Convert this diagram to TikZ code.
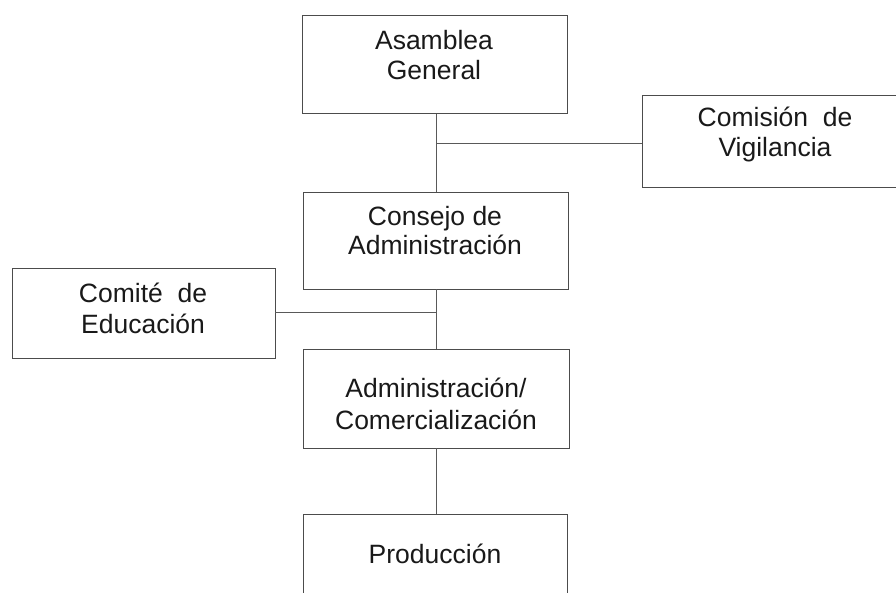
\documentclass[tikz,border=0pt]{standalone}
\usepackage{fontspec}
\setmainfont{Liberation Sans}
\begin{document}
\begin{tikzpicture}[x=1pt,y=-1pt,
  box/.style={draw=black!70,line width=0.7pt,rectangle,inner sep=0pt},
  lbl/.style={anchor=base,align=center,font=\fontsize{26.5}{#1}\selectfont,text=black!90,inner sep=0pt},
  lbl/.default=32,
  conn/.style={draw=black!65,line width=0.7pt}]
\useasboundingbox (0,0) rectangle (896,593);
\clip (0,0) rectangle (896,593);
\node[box,minimum width=265pt,minimum height=98pt] (asamblea) at (434.5,64.5) {};
\node[box,minimum width=265pt,minimum height=92pt] (comision) at (774.5,141) {};
\node[box,minimum width=265pt,minimum height=97pt] (consejo) at (435.5,240.5) {};
\node[box,minimum width=263pt,minimum height=90pt] (comite) at (143.5,313) {};
\node[box,minimum width=266pt,minimum height=99pt] (admin) at (436,398.5) {};
\node[box,minimum width=264pt,minimum height=97pt] (produccion) at (435,562.5) {};
\node[lbl=30] (tasamblea) at (434,80) {Asamblea\\General};
\node[lbl=30] (tcomision) at (775,157) {Comisión\ \ de\\Vigilancia};
\node[lbl=29.5] (tconsejo) at (435,255) {Consejo de\\Administración};
\node[lbl=30] (tcomite) at (143,333) {Comité\ \ de\\Educación};
\node[lbl=32] (tadmin) at (436,429) {Administración/\\Comercialización};
\node[lbl] (tproduccion) at (435,563) {Producción};
\coordinate (j1) at (436,143);
\coordinate (j2) at (436,312);
\draw[conn] (436,0 |- asamblea.south) -- (436,0 |- consejo.north);
\draw[conn] (j1) -- (j1 -| comision.west);
\draw[conn] (436,0 |- consejo.south) -- (436,0 |- admin.north);
\draw[conn] (j2) -- (j2 -| comite.east);
\draw[conn] (436,0 |- admin.south) -- (436,0 |- produccion.north);
\end{tikzpicture}
\end{document}
